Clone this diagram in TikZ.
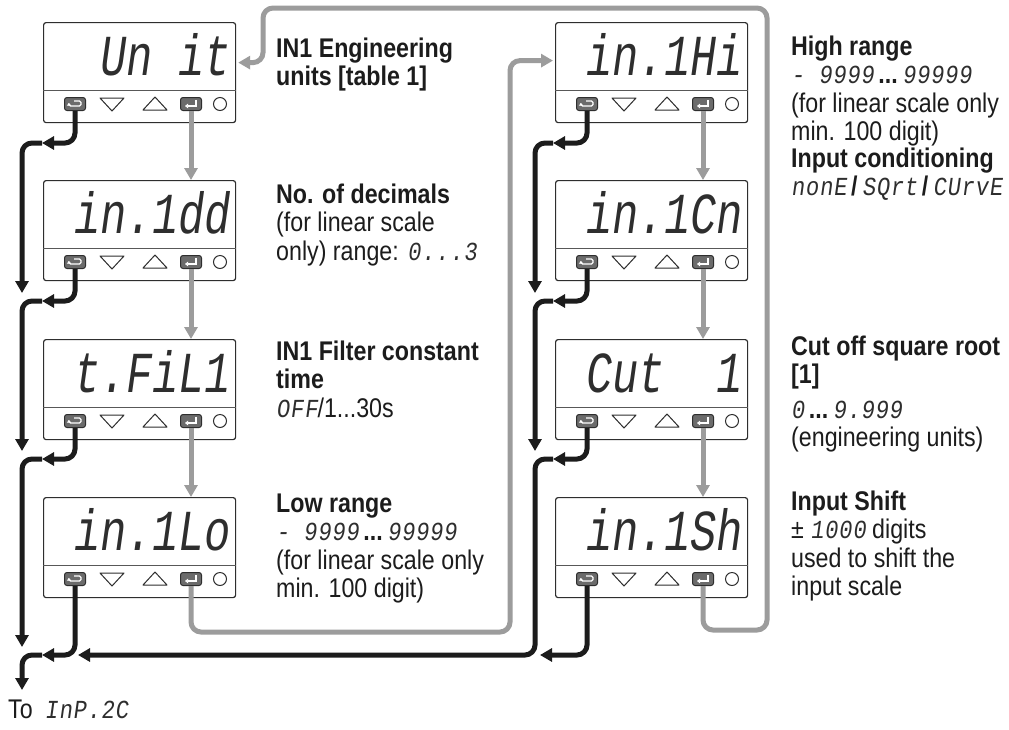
\documentclass[tikz,border=0pt]{standalone}
\usepackage{fontspec}
\setmainfont{Liberation Sans}[FakeStretch=0.86]
\newfontfamily\segfont{Liberation Mono}[FakeSlant=0.14,FakeStretch=0.75]
\newfontfamily\seginl{Liberation Mono}[FakeSlant=0.14,FakeStretch=0.85,LetterSpace=3]
\usetikzlibrary{arrows.meta,positioning}
\definecolor{ink}{HTML}{1C1C1C}
\definecolor{loopgray}{HTML}{9C9C9C}
\definecolor{keygray}{HTML}{6B6B6B}
\definecolor{frame}{HTML}{2E2E2E}
\newcommand\seg[1]{{\seginl\fontsize{26}{28.5}\selectfont\color{frame}#1}}

% one front panel: name, top-left x, top-left y, display text
\newcommand\ctrlpanel[4]{%
  \node[panel] (#1) at (#2,#3) {};
  \draw[divider] ([shift={(0,68)}]#1.north west) -- ([shift={(0,68)}]#1.north east);
  \node[keybtn] (#1-esc) at ([shift={(32,82)}]#1.north west) {};
  \draw[keysym,rounded corners=1.5pt,-{Triangle[length=2.5pt,width=4pt]}]
    ([shift={(-1,-3)}]#1-esc.center) -- ([shift={(6,-3)}]#1-esc.center) -- ([shift={(6,2)}]#1-esc.center)
    -- ([shift={(-6,2)}]#1-esc.center) -- ([shift={(-6,-1)}]#1-esc.center);
  \coordinate (#1-dn) at ([shift={(69,82)}]#1.north west);
  \draw[keyline] ([shift={(-12,-6)}]#1-dn) -- ([shift={(12,-6)}]#1-dn) -- ([shift={(0,7)}]#1-dn) -- cycle;
  \coordinate (#1-up) at ([shift={(112,82)}]#1.north west);
  \draw[keyline] ([shift={(-12,6)}]#1-up) -- ([shift={(12,6)}]#1-up) -- ([shift={(0,-7)}]#1-up) -- cycle;
  \node[keybtn] (#1-ent) at ([shift={(148,82)}]#1.north west) {};
  \draw[keysym,-{Triangle[length=3pt,width=4.5pt]}]
    ([shift={(5,-4)}]#1-ent.center) -- ([shift={(5,2)}]#1-ent.center) -- ([shift={(-6,2)}]#1-ent.center);
  \node[led] (#1-led) at ([shift={(177,82)}]#1.north west) {};
  \node[display] (#1-txt) at ([shift={(-7,53)}]#1.north east) {#4};
}

\begin{document}
\begin{tikzpicture}[x=1pt,y=-1pt,
  panel/.style={draw=frame,line width=1.2pt,rounded corners=2.5pt,minimum width=192pt,minimum height=100pt,anchor=north west,inner sep=0pt},
  divider/.style={draw=frame!80,line width=0.9pt},
  keybtn/.style={draw=frame,fill=keygray,line width=1pt,rounded corners=2.5pt,minimum width=21pt,minimum height=13pt,inner sep=0pt},
  keysym/.style={draw=white,line width=1.2pt},
  keyline/.style={draw=frame,line width=1pt,line join=round},
  led/.style={draw=frame,line width=1pt,circle,minimum size=13pt,inner sep=0pt},
  display/.style={anchor=base east,inner sep=0pt,text=frame,font=\segfont\fontsize{58}{58}\selectfont},
  note/.style={anchor=north west,align=left,inner sep=0pt,text=ink,font=\fontsize{27}{28.5}\selectfont},
  blk/.style={draw=ink,line width=5pt,rounded corners=10pt,->},
  gry/.style={draw=loopgray,line width=5pt,rounded corners=10pt,->},
  >={Triangle[length=12pt,width=13pt]}]
  \fill[white] (0,0) rectangle (1009,729);
  \useasboundingbox (0,0) rectangle (1009,729);

  % left column
  \ctrlpanel{unit}{43}{22}{Un it}
  \ctrlpanel{dec}{43}{180}{in.1dd}
  \ctrlpanel{filt}{43}{339}{t.FiL1}
  \ctrlpanel{lo}{43}{497}{in.1Lo}
  % right column
  \ctrlpanel{hi}{555}{22}{in.1Hi}
  \ctrlpanel{cond}{555}{180}{in.1Cn}
  \ctrlpanel{cut}{555}{339}{Cut~~1}
  \ctrlpanel{shift}{555}{497}{in.1Sh}

  % descriptions
  \node[note] (t-unit) at (276,37) {\strut\textbf{IN1 Engineering}\\\textbf{units [table 1]}};
  \node[note] (t-dec) at (276,183) {\strut\textbf{No. of decimals}\\(for linear scale\\only) range: \seg{0...3}};
  \node[note] (t-filt) at (276,340) {\strut\textbf{IN1 Filter constant}\\\textbf{time}\\\seg{OFF}/1...30s};
  \node[note] (t-lo) at (276,492) {\strut\textbf{Low range}\\\seg{- 9999}\,\textbf{...}\,\seg{99999}\\(for linear scale only\\min. 100 digit)};
  \node[note] (t-hi) at (791,35) {\strut\textbf{High range}\\\seg{- 9999}\,\textbf{...}\,\seg{99999}\\(for linear scale only\\min. 100 digit)};
  \node[note] (t-cond) at (791,147) {\strut\textbf{Input conditioning}\\\seg{nonE}\,\textbf{/}\,\seg{SQrt}\,\textbf{/}\,\seg{CUrvE}};
  \node[note] (t-cut) at (791,335) {\strut\textbf{Cut off square root}\\\textbf{[1]}\\[6pt]\seg{0}\,\textbf{...}\,\seg{9.999}\\(engineering units)};
  \node[note] (t-shift) at (791,490) {\strut\textbf{Input Shift}\\± \seg{1000} digits\\used to shift the\\input scale};
  \node[anchor=base west,inner sep=0pt,text=ink,font=\fontsize{27}{28.5}\selectfont] (dest) at (8,718) {To\hspace{12pt}\seg{InP.2C}};

  % junctions of the escape chains
  \coordinate (lj1) at (42,143);
  \coordinate (lj2) at (42,301);
  \coordinate (lj3) at (42,459);
  \coordinate (lj4) at (42,655);
  \coordinate (lout) at (22,690);
  \coordinate (rj1) at (553,143);
  \coordinate (rj2) at (553,301);
  \coordinate (rj3) at (553,459);
  \coordinate (rb4) at (535,655);
  \coordinate (ga) at (510,632);
  \coordinate (gb1) at (767,630);
  \coordinate (gb2) at (263,8);

  % enter: next parameter
  \draw[gry] (unit-ent.south) -- (unit-ent.south |- dec.north);
  \draw[gry] (dec-ent.south) -- (dec-ent.south |- filt.north);
  \draw[gry] (filt-ent.south) -- (filt-ent.south |- lo.north);
  \draw[gry] (hi-ent.south) -- (hi-ent.south |- cond.north);
  \draw[gry] (cond-ent.south) -- (cond-ent.south |- cut.north);
  \draw[gry] (cut-ent.south) -- (cut-ent.south |- shift.north);
  \draw[gry] (lo-ent.south) |- (ga) |- ([shift={(-2,-12)}]hi.west);
  \draw[gry] (shift-ent.south) |- (gb1) |- (gb2) |- ([shift={(2,-10)}]unit.east);

  % escape: leave the group
  \draw[blk] (unit-esc.south) |- (lj1);
  \draw[blk] (dec-esc.south) |- (lj2);
  \draw[blk] (filt-esc.south) |- (lj3);
  \draw[blk] (lo-esc.south) |- (lj4);
  \draw[blk] (lj1) -| ([shift={(-20,-8)}]lj2);
  \draw[blk] (lj2) -| ([shift={(-20,-8)}]lj3);
  \draw[blk] (lj3) -| ([shift={(-20,-8)}]lj4);
  \draw[blk] (lj4) -| (lout);
  \draw[blk] (hi-esc.south) |- (rj1);
  \draw[blk] (cond-esc.south) |- (rj2);
  \draw[blk] (cut-esc.south) |- (rj3);
  \draw[blk] (shift-esc.south) |- ([xshift=5pt]rb4);
  \draw[blk] (rj1) -| ([shift={(-18,-8)}]rj2);
  \draw[blk] (rj2) -| ([shift={(-18,-8)}]rj3);
  \draw[blk] (rj3) -| (rb4) -- ([xshift=3pt]lo-esc.south |- rb4);
\end{tikzpicture}
\end{document}
